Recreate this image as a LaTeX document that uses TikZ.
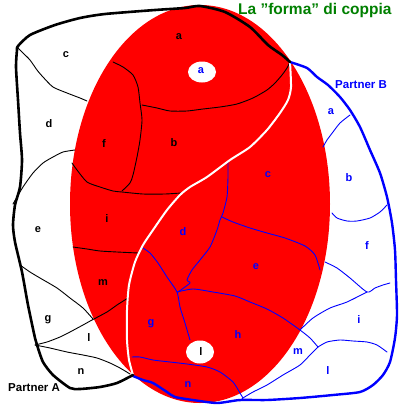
\documentclass[tikz,border=0pt]{standalone}
\usepackage{fontspec}
\setmainfont{Liberation Sans}
\definecolor{ttl}{RGB}{0,128,0}
\definecolor{pb}{RGB}{0,0,255}
\definecolor{rd}{RGB}{255,0,0}
\tikzset{
  thinA/.style={black, line width=0.9pt, line join=round, line cap=round},
  thinB/.style={pb, line width=0.9pt, line join=round, line cap=round},
  outA/.style={black, line width=2.6pt, line join=round, line cap=round},
  outB/.style={pb, line width=2.4pt, line join=round, line cap=round},
  sep/.style={white, line width=2pt, line join=round, line cap=round},
  lblA/.style={inner sep=0pt, black, font=\fontsize{11}{11}\selectfont\bfseries},
  lblB/.style={inner sep=0pt, pb, font=\fontsize{11}{11}\selectfont\bfseries},
  pname/.style={inner sep=0pt, anchor=base west, font=\fontsize{11.5}{11.5}\selectfont\bfseries},
}
\begin{document}
\begin{tikzpicture}[x=1pt,y=-1pt]
\useasboundingbox (0,0) rectangle (400,410);
\fill[white] (0,0) rectangle (400,410);
% red ellipse
\fill[rd] (200,204) ellipse [x radius=130pt, y radius=199pt];
% thin black lines (Partner A)
\draw[thinA] plot[smooth,tension=0.4] coordinates {(17,47) (23,53) (30,60) (37,70) (43,77) (53,87) (67,93) (80,98) (87,101)};
\draw[thinA] plot[smooth,tension=0.4] coordinates {(13,204) (23,187) (33,173) (43,163) (53,157) (63,152) (75,150)};
\draw[thinA] plot[smooth,tension=0.4] coordinates {(113,62) (123,67) (133,75) (138,87) (140,103) (142,120) (140,140) (137,157) (133,175) (130,183) (122,191)};
\draw[thinA] plot[smooth,tension=0.4] coordinates {(72,163) (77,170) (87,182) (100,187) (113,191) (122,192) (143,194) (165,194) (181,193)};
\draw[thinA] plot[smooth,tension=0.4] coordinates {(142,105) (157,108) (170,111) (187,111) (203,109) (220,107) (237,104) (253,98) (267,90) (275,83) (282,75) (287,68) (290,62)};
\draw[thinA] plot[smooth,tension=0.4] coordinates {(73,247) (87,249) (100,251) (117,252) (138,253)};
\draw[thinA] plot[smooth,tension=0.4] coordinates {(20,265) (30,272) (40,278) (57,288) (70,298) (83,308) (93,319)};
\draw[thinA] plot[smooth,tension=0.4] coordinates {(35,345) (47,342) (60,337) (70,332) (83,325) (92,320) (107,312) (117,305) (128,298)};
\draw[thinA] plot[smooth,tension=0.4] coordinates {(35,345) (50,348) (67,352) (83,355) (97,358) (110,363) (120,368) (130,374)};
% thin blue lines (Partner B)
\draw[thinB] plot[smooth,tension=0.4] coordinates {(350,115) (340,123) (333,132) (327,140) (323,147)};
\draw[thinB] plot[smooth,tension=0.4] coordinates {(387,205) (380,212) (370,218) (357,221) (347,221) (337,218) (332,213)};
\draw[thinB] plot[smooth,tension=0.4] coordinates {(325,262) (337,268) (350,278) (367,292) (375,288) (383,285) (390,283)};
\draw[thinB] plot[smooth,tension=0.4] coordinates {(367,292) (347,302) (330,308) (313,318) (300,330)};
\draw[thinB] plot[smooth,tension=0.4] coordinates {(177,292) (193,289) (213,292) (235,296) (250,302) (267,309) (283,318) (300,330) (310,338) (318,347)};
\draw[thinB] plot[smooth,tension=0.4] coordinates {(318,347) (327,342) (340,340) (353,341) (367,342) (377,345) (387,352)};
\draw[thinB] plot[smooth,tension=0.4] coordinates {(318,347) (310,355) (300,365) (283,375) (267,385) (253,392) (243,398) (240,401)};
\draw[thinB] plot[smooth,tension=0.4] coordinates {(132,357) (140,357) (153,360) (170,362) (187,364) (207,367) (220,372) (233,382) (240,393) (243,398)};
\draw[thinB] plot[smooth,tension=0.4] coordinates {(143,248) (150,253) (158,263) (167,277) (177,292) (180,307) (185,323) (190,340)};
\draw[thinB] plot[smooth,tension=0.4] coordinates {(228,162) (228,177) (227,197) (223,213) (220,220) (217,230) (210,247) (200,260) (192,270) (187,280) (190,283) (178,292)};
\draw[thinB] plot[smooth,tension=0.4] coordinates {(222,217) (233,222) (250,228) (267,233) (285,238) (305,246) (315,255) (320,270)};
% white separator
\draw[sep] plot[smooth,tension=0.4] coordinates {(290,62) (291,87) (288,100) (280,113) (267,130) (250,147) (230,160) (207,177) (190,187) (180,195) (167,210) (153,230) (143,245) (135,262) (129,285) (127,310) (127,340) (129,360) (133,375)};
% outlines
\draw[outB] plot[smooth,tension=0.4] coordinates {(290,62) (307,68) (317,77) (328,85) (340,97) (350,110) (360,127) (370,150) (380,173) (387,197) (392,223) (395,250) (396,280) (397,315) (395,338) (390,362) (383,375) (373,385) (360,392) (333,395) (300,398) (267,400) (240,400) (217,403) (193,400) (175,397) (167,392) (153,383) (143,380) (133,376)};
\draw[outA] plot[smooth,tension=0.4] coordinates {(290,62) (282,55) (268,45) (250,27) (225,12) (200,6) (185,8) (155,10) (105,14) (80,18) (55,25) (30,35) (18,46) (17,50) (16,67) (18,100) (20,133) (22,160) (20,187) (15,205) (13,225) (15,242) (22,272) (28,305) (35,338) (37,345) (43,362) (53,375) (70,388) (80,389) (100,387) (117,383) (133,375)};
% white ellipses
\fill[white] (202,72) ellipse [x radius=14pt, y radius=10.5pt];
\fill[white] (200,352) ellipse [x radius=14pt, y radius=11.5pt];
% title and names
\node[pname, ttl, font=\fontsize{15.5}{15.5}\selectfont\bfseries] (title) at (238,14) {La \symbol{34}forma\symbol{34} di coppia};
\node[pname, pb] (pB) at (335,88) {Partner B};
\node[pname, black] (pA) at (8,391) {Partner A};
% Partner A labels
\node[lblA] (Aa) at (179,37) {a};
\node[lblA] (Ac) at (66,55) {c};
\node[lblA] (Ad) at (49,124) {d};
\node[lblA] (Af) at (104,144) {f};
\node[lblA] (Ab) at (174,143) {b};
\node[lblA] (Ai) at (107,219) {i};
\node[lblA] (Ae) at (38,230) {e};
\node[lblA] (Am) at (103,283) {m};
\node[lblA] (Ag) at (48,320) {g};
\node[lblA] (Al) at (89,338) {l};
\node[lblA] (An) at (81,372) {n};
\node[lblA] (Al2) at (201,352) {l};
% Partner B labels
\node[lblB] (Ba2) at (201,71) {a};
\node[lblB] (Ba) at (331,112) {a};
\node[lblB] (Bb) at (349,178) {b};
\node[lblB] (Bc) at (268,175) {c};
\node[lblB] (Bd) at (183,232) {d};
\node[lblB] (Be) at (256,267) {e};
\node[lblB] (Bf) at (367,246) {f};
\node[lblB] (Bg) at (151,324) {g};
\node[lblB] (Bh) at (238,335) {h};
\node[lblB] (Bi) at (359,320) {i};
\node[lblB] (Bm) at (298,352) {m};
\node[lblB] (Bl) at (328,371) {l};
\node[lblB] (Bn) at (188,385) {n};
\end{tikzpicture}
\end{document}
